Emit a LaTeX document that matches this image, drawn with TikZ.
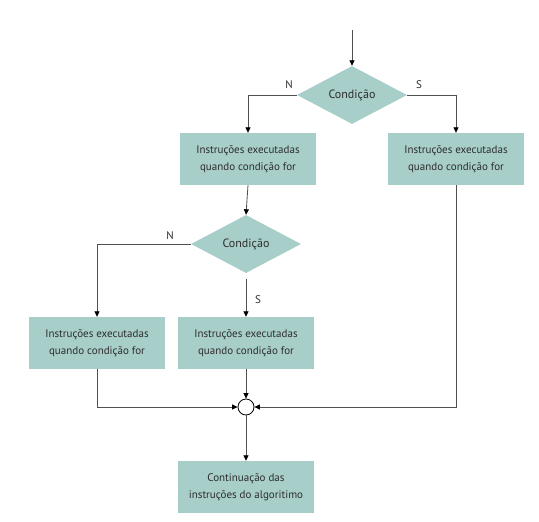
\documentclass[tikz,border=0pt]{standalone}
\usepackage{fontspec}
\setmainfont{PT Sans}
\usepackage{xcolor}
\usetikzlibrary{shapes, shapes.geometric, arrows.meta, positioning}
\definecolor{caixa}{RGB}{168,206,202}
\definecolor{linha}{RGB}{80,80,80}
\definecolor{texto}{RGB}{45,45,45}

\tikzset{
    bloco/.style={rectangle, fill=caixa, minimum width=136pt, minimum height=52pt, align=center, text=texto, font=\fontsize{11}{17}\selectfont},
    decisao/.style={diamond, fill=caixa, minimum width=110pt, minimum height=58pt, inner sep=0pt, text=texto, font=\fontsize{12}{14}\selectfont},
    seta/.style={draw=linha, line width=0.8pt, -{Triangle[length=5.5pt, width=5pt, color=black]}},
    rotulo/.style={text=texto, font=\fontsize{11}{13}\selectfont, inner sep=1pt}
}

\begin{document}
\begin{tikzpicture}[x=1pt, y=-1pt]
    \useasboundingbox (0,0) rectangle (539,522);

    % decisoes
    \node[decisao] (cond1) at (352,95) {Condição};
    \node[decisao] (cond2) at (246,244) {Condição};

    % blocos de instrucoes
    \node[bloco] (instr1) at (248,159) {Instruções executadas\\quando condição for};
    \node[bloco] (instr2) at (456,159) {Instruções executadas\\quando condição for};
    \node[bloco] (instr3) at (97,343) {Instruções executadas\\quando condição for};
    \node[bloco] (instr4) at (246,343) {Instruções executadas\\quando condição for};
    \node[bloco] (fim) at (246,487) {Continuação das\\instruções do algoritimo};

    % juncao
    \node[circle, draw=black, line width=0.8pt, minimum size=16pt, inner sep=0pt] (junta) at (246,407) {};

    \coordinate (inicio) at (352,30);

    % conexoes
    \draw[seta] (inicio) -- (cond1.north);
    \draw[seta] (cond1.west) -| (instr1.north);
    \draw[seta] (cond1.east) -| (instr2.north);
    \draw[seta] (instr1.south) -- (cond2.north);
    \draw[seta] (cond2.west) -| (instr3.north);
    \draw[seta, shorten <=6pt] (cond2.south) -- (instr4.north);
    \draw[seta] (instr4.south) -- (junta.north);
    \draw[seta] (instr3.south) |- (junta.west);
    \draw[seta] (instr2.south) |- (junta.east);
    \draw[seta] (junta.south) -- (fim.north);

    % rotulos
    \node[rotulo] at (289,85) {N};
    \node[rotulo] at (419,85) {S};
    \node[rotulo] at (170,236) {N};
    \node[rotulo] at (258,300) {S};
\end{tikzpicture}
\end{document}
